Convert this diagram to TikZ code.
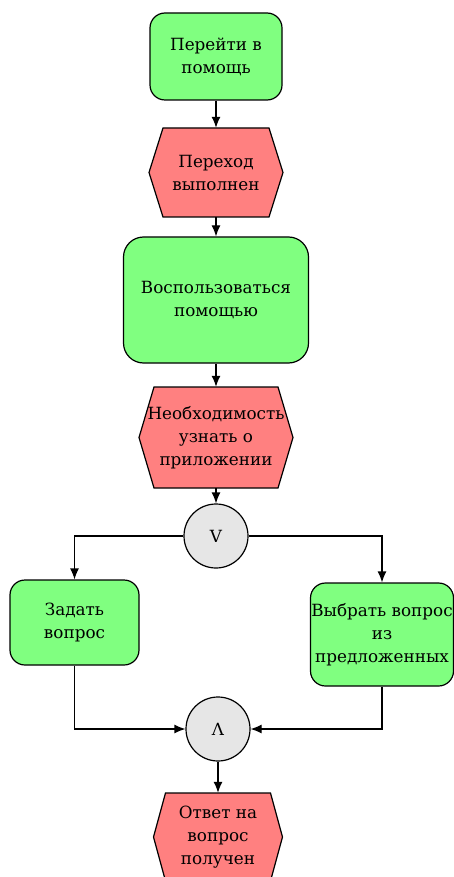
\documentclass[tikz,border=0pt]{standalone}
\usepackage{fontspec}
\setmainfont{DejaVu Serif}
\usetikzlibrary{arrows.meta}
\definecolor{funcgreen}{HTML}{80FF80}
\definecolor{eventred}{HTML}{FF8080}
\definecolor{opgray}{HTML}{E6E6E6}
% event hexagon: name, cx, cy, width, height, point depth, text
\newcommand\eventhex[7]{%
  \draw[evshape] (#2-#4/2,#3) -- (#2-#4/2+#6,#3-#5/2) -- (#2+#4/2-#6,#3-#5/2)
    -- (#2+#4/2,#3) -- (#2+#4/2-#6,#3+#5/2) -- (#2-#4/2+#6,#3+#5/2) -- cycle;
  \node[evtext, minimum width=#4pt, minimum height=#5pt] (#1) at (#2,#3) {#7};}
\begin{document}
\begin{tikzpicture}[x=1pt,y=-1pt,
  lbl/.style={align=center, font=\fontsize{16.8}{23}\selectfont, inner sep=0pt},
  func/.style={lbl, draw=black, fill=funcgreen, line width=1.2pt, rounded corners=15pt},
  evshape/.style={draw=black, fill=eventred, line width=1.2pt, line join=miter},
  evtext/.style={lbl},
  oper/.style={lbl, circle, draw=black, fill=opgray, line width=1.2pt, minimum size=64pt},
  flow/.style={draw=black, line width=1.2pt, -{Latex[length=11pt,width=9pt]}}]
\useasboundingbox (0,0) rectangle (454,877);

\node[func, minimum width=132pt, minimum height=87pt] (go) at (216,56.5) {Перейти в\\помощь};
\eventhex{done}{216}{172.5}{134}{89}{14}{Переход\\выполнен}
\node[func, rounded corners=20pt, minimum width=185pt, minimum height=126pt] (use) at (216,300) {Воспользоваться\\помощью};
\eventhex{need}{216}{437.5}{154}{101}{15}{Необходимость\\узнать о\\приложении}
\node[oper] (xor) at (216,536) {V};
\node[func, minimum width=129pt, minimum height=85pt] (ask) at (74.5,622.5) {Задать\\вопрос};
\node[func, minimum width=143pt, minimum height=103pt] (pick) at (382,634.5) {Выбрать вопрос\\из\\предложенных};
\node[oper] (and) at (218,729) {Λ};
\eventhex{answer}{218}{837}{129}{88}{12}{Ответ на\\вопрос\\получен}

\draw[flow] (go.south) -- (done.north);
\draw[flow] (done.south) -- (use.north);
\draw[flow] (use.south) -- (need.north);
\draw[flow] (need.south) -- (xor.north);
\draw[flow] (xor.west) -| (ask.north);
\draw[flow] (xor.east) -| (pick.north);
\draw[flow] (ask.south) |- (and.west);
\draw[flow] (pick.south) |- (and.east);
\draw[flow] (and.south) -- (answer.north);
\end{tikzpicture}
\end{document}
